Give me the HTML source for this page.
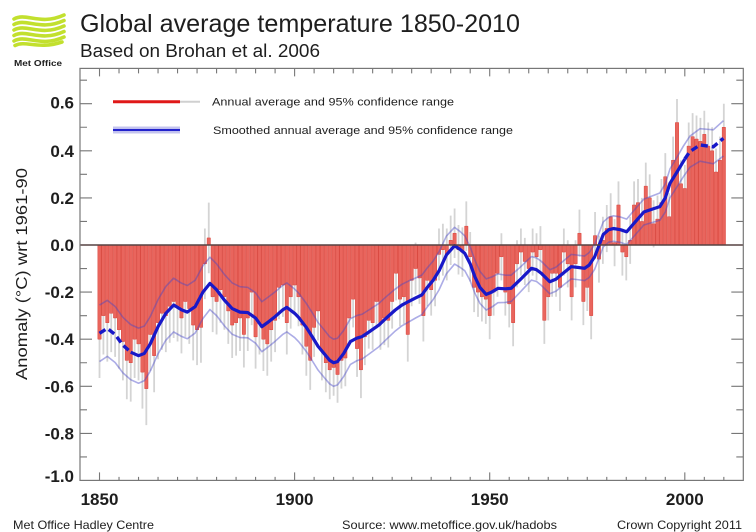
<!DOCTYPE html>
<html><head><meta charset="utf-8"><style>
html,body{margin:0;padding:0;background:#fff;}
svg{display:block;}
text{font-family:"Liberation Sans",Arial,sans-serif;fill:#1e1e1e;}
</style></head><body>
<svg width="756" height="532" viewBox="0 0 756 532" xmlns="http://www.w3.org/2000/svg">
<rect width="756" height="532" fill="#fff"/>
<!-- logo -->
<g fill="none" stroke="#c2e02e" stroke-width="3.6" stroke-linecap="round">
<path d="M14 19 C26 12 40 26 64 15"/>
<path d="M14 24.5 C26 17.5 40 31.5 64 20.5"/>
<path d="M14 30 C26 23 40 37 64 26"/>
<path d="M14 35.5 C26 28.5 40 42.5 64 31.5"/>
<path d="M14 41 C26 34 40 48 64 37"/>
<path d="M15 45.5 C26 40 38 50 62 42"/>
</g>
<text x="14" y="66" font-size="8" font-weight="bold" textLength="48" lengthAdjust="spacingAndGlyphs">Met Office</text>
<text x="80" y="32" font-size="25" textLength="440" lengthAdjust="spacingAndGlyphs">Global average temperature 1850-2010</text>
<text x="80" y="57" font-size="18" textLength="240" lengthAdjust="spacingAndGlyphs">Based on Brohan et al. 2006</text>

<!-- data -->
<g transform="translate(80,245) scale(3.902,-235.5) translate(-1845,0)">
<path fill="none" stroke="#d4d4d4" stroke-width="1.8" vector-effect="non-scaling-stroke" d="M1850-.565v.33M1851-.465v.33M1852-.495v.33M1853-.455v.33M1854-.475v.33M1855-.525v.33M1856-.575v.33M1857-.655v.33M1858-.665v.33M1859-.565v.33M1860-.575v.31M1861-.695v.31M1862-.765v.31M1863-.535v.31M1864-.625v.31M1865-.485v.31M1866-.445v.31M1867-.455v.31M1868-.415v.31M1869-.395v.31M1870-.41v.3M1871-.46v.3M1872-.39v.3M1873-.42v.3M1874-.49v.3M1875-.51v.3M1876-.5v.3M1877-.23v.3M1878-.12v.3M1879-.37v.3M1880-.38v.28M1881-.33v.28M1882-.36v.28M1883-.42v.28M1884-.48v.28M1885-.47v.28M1886-.45v.28M1887-.52v.28M1888-.45v.28M1889-.34v.28M1890-.525v.27M1891-.465v.27M1892-.535v.27M1893-.555v.27M1894-.495v.27M1895-.455v.27M1896-.315v.27M1897-.305v.27M1898-.465v.27M1899-.355v.27M1900-.295v.25M1901-.345v.25M1902-.465v.25M1903-.555v.25M1904-.615v.25M1905-.475v.25M1906-.405v.25M1907-.575v.25M1908-.625v.25M1909-.655v.25M1910-.64v.24M1911-.67v.24M1912-.61v.24M1913-.6v.24M1914-.43v.24M1915-.35v.24M1916-.56v.24M1917-.65v.24M1918-.51v.24M1919-.44v.24M1920-.445v.23M1921-.355v.23M1922-.445v.23M1923-.425v.23M1924-.435v.23M1925-.355v.23M1926-.235v.23M1927-.345v.23M1928-.335v.23M1929-.495v.23M1930-.26v.22M1931-.21v.22M1932-.25v.22M1933-.41v.22M1934-.26v.22M1935-.3v.22M1936-.26v.22M1937-.15v.22M1938-.13v.22M1939-.15v.22M1940-.085v.21M1941-.055v.21M1942-.125v.21M1943-.135v.21M1944-.025v.21M1945-.155v.21M1946-.285v.21M1947-.305v.21M1948-.325v.21M1949-.335v.21M1950-.4v.2M1951-.3v.2M1952-.22v.2M1953-.15v.2M1954-.3v.2M1955-.35v.2M1956-.43v.2M1957-.18v.2M1958-.13v.2M1959-.17v.2M1960-.2v.2M1961-.13v.2M1962-.15v.2M1963-.12v.2M1964-.42v.2M1965-.32v.2M1966-.22v.2M1967-.22v.2M1968-.28v.2M1969-.13v.2M1970-.18v.2M1971-.32v.2M1972-.18v.2M1973-.05v.2M1974-.34v.2M1975-.28v.2M1976-.4v.2M1977-.06v.2M1978-.16v.2M1979-.08v.2M1980-.03v.2M1981 .02v.2M1982-.09v.2M1983 .07v.2M1984-.13v.2M1985-.15v.2M1986-.08v.2M1987 .07v.2M1988 .08v.2M1989 0v.2M1990 .15v.2M1991 .1v.2M1992-.01v.2M1993 .01v.2M1994 .08v.2M1995 .19v.2M1996 .02v.2M1997 .26v.2M1998 .42v.2M1999 .16v.2M2000 .14v.2M2001 .32v.2M2002 .36v.2M2003 .35v.2M2004 .34v.2M2005 .37v.2M2006 .32v.2M2007 .3v.2M2008 .21v.2M2009 .26v.2M2010 .4v.2"/>
<g transform="translate(-.43,0)">
<path fill="#e9655d" stroke="#d9453c" stroke-width=".5" vector-effect="non-scaling-stroke" d="M1850 0V-.4h.86V0ZM1851 0V-.3h.86V0ZM1852 0V-.33h.86V0ZM1853 0V-.29h.86V0ZM1854 0V-.31h.86V0ZM1855 0V-.36h.86V0ZM1856 0V-.41h.86V0ZM1857 0V-.49h.86V0ZM1858 0V-.5h.86V0ZM1859 0V-.4h.86V0ZM1860 0V-.42h.86V0ZM1861 0V-.54h.86V0ZM1862 0V-.61h.86V0ZM1863 0V-.38h.86V0ZM1864 0V-.47h.86V0ZM1865 0V-.33h.86V0ZM1866 0V-.29h.86V0ZM1867 0V-.3h.86V0ZM1868 0V-.26h.86V0ZM1869 0V-.24h.86V0ZM1870 0V-.26h.86V0ZM1871 0V-.31h.86V0ZM1872 0V-.24h.86V0ZM1873 0V-.27h.86V0ZM1874 0V-.34h.86V0ZM1875 0V-.36h.86V0ZM1876 0V-.35h.86V0ZM1877 0V-.08h.86V0ZM1878 0V.03h.86V0ZM1879 0V-.22h.86V0ZM1880 0V-.24h.86V0ZM1881 0V-.19h.86V0ZM1882 0V-.22h.86V0ZM1883 0V-.28h.86V0ZM1884 0V-.34h.86V0ZM1885 0V-.33h.86V0ZM1886 0V-.31h.86V0ZM1887 0V-.38h.86V0ZM1888 0V-.31h.86V0ZM1889 0V-.2h.86V0ZM1890 0V-.39h.86V0ZM1891 0V-.33h.86V0ZM1892 0V-.4h.86V0ZM1893 0V-.42h.86V0ZM1894 0V-.36h.86V0ZM1895 0V-.32h.86V0ZM1896 0V-.18h.86V0ZM1897 0V-.17h.86V0ZM1898 0V-.33h.86V0ZM1899 0V-.22h.86V0ZM1900 0V-.17h.86V0ZM1901 0V-.22h.86V0ZM1902 0V-.34h.86V0ZM1903 0V-.43h.86V0ZM1904 0V-.49h.86V0ZM1905 0V-.35h.86V0ZM1906 0V-.28h.86V0ZM1907 0V-.45h.86V0ZM1908 0V-.5h.86V0ZM1909 0V-.53h.86V0ZM1910 0V-.52h.86V0ZM1911 0V-.55h.86V0ZM1912 0V-.49h.86V0ZM1913 0V-.48h.86V0ZM1914 0V-.31h.86V0ZM1915 0V-.23h.86V0ZM1916 0V-.44h.86V0ZM1917 0V-.53h.86V0ZM1918 0V-.39h.86V0ZM1919 0V-.32h.86V0ZM1920 0V-.33h.86V0ZM1921 0V-.24h.86V0ZM1922 0V-.33h.86V0ZM1923 0V-.31h.86V0ZM1924 0V-.32h.86V0ZM1925 0V-.24h.86V0ZM1926 0V-.12h.86V0ZM1927 0V-.23h.86V0ZM1928 0V-.22h.86V0ZM1929 0V-.38h.86V0ZM1930 0V-.15h.86V0ZM1931 0V-.1h.86V0ZM1932 0V-.14h.86V0ZM1933 0V-.3h.86V0ZM1934 0V-.15h.86V0ZM1935 0V-.19h.86V0ZM1936 0V-.15h.86V0ZM1937 0V-.04h.86V0ZM1938 0V-.02h.86V0ZM1939 0V-.04h.86V0ZM1940 0V.02h.86V0ZM1941 0V.05h.86V0ZM1942 0V-.02h.86V0ZM1943 0V-.03h.86V0ZM1944 0V.08h.86V0ZM1945 0V-.05h.86V0ZM1946 0V-.18h.86V0ZM1947 0V-.2h.86V0ZM1948 0V-.22h.86V0ZM1949 0V-.23h.86V0ZM1950 0V-.3h.86V0ZM1951 0V-.2h.86V0ZM1952 0V-.12h.86V0ZM1953 0V-.05h.86V0ZM1954 0V-.2h.86V0ZM1955 0V-.25h.86V0ZM1956 0V-.33h.86V0ZM1957 0V-.08h.86V0ZM1958 0V-.03h.86V0ZM1959 0V-.07h.86V0ZM1960 0V-.1h.86V0ZM1961 0V-.03h.86V0ZM1962 0V-.05h.86V0ZM1963 0V-.02h.86V0ZM1964 0V-.32h.86V0ZM1965 0V-.22h.86V0ZM1966 0V-.12h.86V0ZM1967 0V-.12h.86V0ZM1968 0V-.18h.86V0ZM1969 0V-.03h.86V0ZM1970 0V-.08h.86V0ZM1971 0V-.22h.86V0ZM1972 0V-.08h.86V0ZM1973 0V.05h.86V0ZM1974 0V-.24h.86V0ZM1975 0V-.18h.86V0ZM1976 0V-.3h.86V0ZM1977 0V.04h.86V0ZM1978 0V-.06h.86V0ZM1979 0V.02h.86V0ZM1980 0V.07h.86V0ZM1981 0V.12h.86V0ZM1982 0V.01h.86V0ZM1983 0V.17h.86V0ZM1984 0V-.03h.86V0ZM1985 0V-.05h.86V0ZM1986 0V.02h.86V0ZM1987 0V.17h.86V0ZM1988 0V.18h.86V0ZM1989 0V.1h.86V0ZM1990 0V.25h.86V0ZM1991 0V.2h.86V0ZM1992 0V.09h.86V0ZM1993 0V.11h.86V0ZM1994 0V.18h.86V0ZM1995 0V.29h.86V0ZM1996 0V.12h.86V0ZM1997 0V.36h.86V0ZM1998 0V.52h.86V0ZM1999 0V.26h.86V0ZM2000 0V.24h.86V0ZM2001 0V.42h.86V0ZM2002 0V.46h.86V0ZM2003 0V.45h.86V0ZM2004 0V.44h.86V0ZM2005 0V.47h.86V0ZM2006 0V.42h.86V0ZM2007 0V.4h.86V0ZM2008 0V.31h.86V0ZM2009 0V.36h.86V0ZM2010 0V.5h.86V0Z"/>
</g>
<polyline fill="none" stroke="#4848c8" stroke-opacity=".45" stroke-width="1.6" stroke-linejoin="round" vector-effect="non-scaling-stroke" points="1850,-.255 1852,-.235 1854,-.261 1856,-.307 1858,-.338 1860,-.353 1861.5,-.344 1863,-.304 1865,-.232 1867,-.176 1869,-.141 1871,-.162 1872.5,-.172 1874.5,-.15 1876.5,-.088 1878.3,-.052 1880,-.08 1882,-.125 1884,-.161 1886,-.177 1888,-.18 1890,-.203 1891.6,-.241 1893,-.224 1895,-.199 1897,-.171 1898,-.161 1900,-.187 1901,-.204 1903,-.248 1904.5,-.287 1906,-.329 1907.5,-.359 1909,-.39 1910,-.4 1911,-.396 1912.6,-.362 1914.3,-.313 1916,-.299 1917.3,-.294 1919,-.276 1921.6,-.248 1923.5,-.219 1925.8,-.187 1927.5,-.167 1929.2,-.153 1931,-.14 1932.6,-.128 1934,-.097 1935.5,-.068 1937,-.029 1938.9,.038 1941,.075 1942.5,.056 1943.6,.039 1945,-.008 1946.2,-.065 1947.5,-.112 1949.1,-.144 1950.5,-.136 1952.1,-.123 1954,-.128 1955.5,-.128 1957.7,-.096 1960.7,-.049 1962,-.055 1963.2,-.069 1965.4,-.105 1967,-.094 1968.3,-.076 1970.9,-.04 1972.5,-.043 1974.3,-.047 1975.5,-.032 1976.9,.003 1979.1,.098 1980.5,.118 1981.7,.124 1983.5,.119 1985.1,.11 1987.7,.161 1989.5,.195 1991.1,.205 1993.6,.221 1995,.26 1996.2,.323 1998,.373 1999.6,.419 2001.3,.462 2003.9,.494 2006,.491 2007.3,.489 2009.9,.528"/>
<polyline fill="none" stroke="#4848c8" stroke-opacity=".45" stroke-width="1.6" stroke-linejoin="round" vector-effect="non-scaling-stroke" points="1850,-.495 1852,-.473 1854,-.499 1856,-.543 1858,-.572 1860,-.587 1861.5,-.576 1863,-.536 1865,-.462 1867,-.404 1869,-.369 1871,-.388 1872.5,-.398 1874.5,-.374 1876.5,-.312 1878.3,-.274 1880,-.3 1882,-.343 1884,-.379 1886,-.393 1888,-.394 1890,-.417 1891.6,-.453 1893,-.436 1895,-.409 1897,-.379 1898,-.369 1900,-.393 1901,-.41 1903,-.452 1904.5,-.491 1906,-.531 1907.5,-.561 1909,-.59 1910,-.6 1911,-.594 1912.6,-.558 1914.3,-.507 1916,-.491 1917.3,-.484 1919,-.464 1921.6,-.432 1923.5,-.401 1925.8,-.365 1927.5,-.343 1929.2,-.327 1931,-.31 1932.6,-.296 1934,-.263 1935.5,-.232 1937,-.191 1938.9,-.122 1941,-.081 1942.5,-.096 1943.6,-.109 1945,-.152 1946.2,-.205 1947.5,-.248 1949.1,-.276 1950.5,-.264 1952.1,-.245 1954,-.244 1955.5,-.24 1957.7,-.202 1960.7,-.149 1962,-.155 1963.2,-.171 1965.4,-.207 1967,-.196 1968.3,-.178 1970.9,-.144 1972.5,-.147 1974.3,-.151 1975.5,-.138 1976.9,-.103 1979.1,-.008 1980.5,.012 1981.7,.016 1983.5,.011 1985.1,.002 1987.7,.051 1989.5,.085 1991.1,.093 1993.6,.105 1995,.14 1996.2,.201 1998,.247 1999.6,.289 2001.3,.33 2003.9,.356 2006,.349 2007.3,.345 2009.9,.378"/>
<polyline fill="none" stroke="#1818c8" stroke-width="3.2" stroke-linejoin="round" vector-effect="non-scaling-stroke" points="1858,-.455 1860,-.47 1861.5,-.46 1863,-.42 1865,-.347 1867,-.29 1869,-.255 1871,-.275 1872.5,-.285 1874.5,-.262 1876.5,-.2 1878.3,-.163 1880,-.19 1882,-.234 1884,-.27 1886,-.285 1888,-.287 1890,-.31 1891.6,-.347 1893,-.33 1895,-.304 1897,-.275 1898,-.265 1900,-.29 1901,-.307 1903,-.35 1904.5,-.389 1906,-.43 1907.5,-.46 1909,-.49 1910,-.5 1911,-.495 1912.6,-.46 1914.3,-.41 1916,-.395 1917.3,-.389 1919,-.37 1921.6,-.34 1923.5,-.31 1925.8,-.276 1927.5,-.255 1929.2,-.24 1931,-.225 1932.6,-.212 1934,-.18 1935.5,-.15 1937,-.11 1938.9,-.042 1941,-.003 1942.5,-.02 1943.6,-.035 1945,-.08 1946.2,-.135 1947.5,-.18 1949.1,-.21 1950.5,-.2 1952.1,-.184 1954,-.186 1955.5,-.184 1957.7,-.149 1960.7,-.099 1962,-.105 1963.2,-.12 1965.4,-.156 1967,-.145 1968.3,-.127 1970.9,-.092 1972.5,-.095 1974.3,-.099 1975.5,-.085 1976.9,-.05 1979.1,.045 1980.5,.065 1981.7,.07 1983.5,.065 1985.1,.056 1987.7,.106 1989.5,.14 1991.1,.149 1993.6,.163 1995,.2 1996.2,.262 1998,.31 2000,.365"/>
</g>
<!-- dashed ends of smooth -->
<polyline fill="none" stroke="#1818c8" stroke-width="3.4" stroke-dasharray="7 4" points="99.5,333.3 107.3,328.4 115.1,334.5 122.9,345.1 130.7,352.2"/>
<polyline fill="none" stroke="#1818c8" stroke-width="3.4" stroke-dasharray="7 4" points="684.8,159 689.7,151.7 700,144.9 708.2,146.1 713.3,146.8 723.4,138.3"/>

<!-- zero line -->
<line x1="80" y1="245" x2="743.3" y2="245" stroke="#574242" stroke-width="1.6"/>

<!-- axes -->
<rect x="80" y="68.4" width="663.3" height="412" fill="none" stroke="#777" stroke-width="1.2"/>
<g transform="translate(80,0) scale(3.902,1) translate(-1845,0)" fill="none" stroke="#777" stroke-width="1.1">
<path vector-effect="non-scaling-stroke" d="M1855 480.4v-3.5M1860 480.4v-3.5M1865 480.4v-3.5M1870 480.4v-3.5M1875 480.4v-3.5M1880 480.4v-3.5M1885 480.4v-3.5M1890 480.4v-3.5M1895 480.4v-3.5M1905 480.4v-3.5M1910 480.4v-3.5M1915 480.4v-3.5M1920 480.4v-3.5M1925 480.4v-3.5M1930 480.4v-3.5M1935 480.4v-3.5M1940 480.4v-3.5M1945 480.4v-3.5M1955 480.4v-3.5M1960 480.4v-3.5M1965 480.4v-3.5M1970 480.4v-3.5M1975 480.4v-3.5M1980 480.4v-3.5M1985 480.4v-3.5M1990 480.4v-3.5M1995 480.4v-3.5M2005 480.4v-3.5M2010 480.4v-3.5M1850 480.4v-8M1900 480.4v-8M1950 480.4v-8M2000 480.4v-8"/>
<path vector-effect="non-scaling-stroke" d="M1855 68.4v5M1860 68.4v5M1865 68.4v5M1870 68.4v5M1875 68.4v5M1880 68.4v5M1885 68.4v5M1890 68.4v5M1895 68.4v5M1905 68.4v5M1910 68.4v5M1915 68.4v5M1920 68.4v5M1925 68.4v5M1930 68.4v5M1935 68.4v5M1940 68.4v5M1945 68.4v5M1955 68.4v5M1960 68.4v5M1965 68.4v5M1970 68.4v5M1975 68.4v5M1980 68.4v5M1985 68.4v5M1990 68.4v5M1995 68.4v5M2005 68.4v5M2010 68.4v5M1850 68.4v8M1900 68.4v8M1950 68.4v8M2000 68.4v8"/>
</g>
<g transform="translate(0,245) scale(1,-235.5)" fill="none" stroke="#777" stroke-width="1.1">
<path vector-effect="non-scaling-stroke" d="M80 .6h12M80 .4h12M80 .2h12M80 -.2h12M80 -.4h12M80 -.6h12M80 -.8h12M80 .7h7M80 .5h7M80 .3h7M80 .1h7M80 -.1h7M80 -.3h7M80 -.5h7M80 -.7h7M80 -.9h7"/>
<path vector-effect="non-scaling-stroke" d="M743.3 .6h-12M743.3 .4h-12M743.3 .2h-12M743.3 -.2h-12M743.3 -.4h-12M743.3 -.6h-12M743.3 -.8h-12M743.3 .7h-7M743.3 .5h-7M743.3 .3h-7M743.3 .1h-7M743.3 -.1h-7M743.3 -.3h-7M743.3 -.5h-7M743.3 -.7h-7M743.3 -.9h-7"/>
</g>

<!-- y labels -->
<g font-size="17" font-weight="bold" text-anchor="end">
<text x="74" y="108.5">0.6</text>
<text x="74" y="156.8">0.4</text>
<text x="74" y="203.9">0.2</text>
<text x="74" y="251">0.0</text>
<text x="74" y="298.1">-0.2</text>
<text x="74" y="345.2">-0.4</text>
<text x="74" y="392.5">-0.6</text>
<text x="74" y="439.6">-0.8</text>
<text x="74" y="482">-1.0</text>
</g>
<!-- x labels -->
<g font-size="17" font-weight="bold" text-anchor="middle">
<text x="99.5" y="505">1850</text>
<text x="294.6" y="505">1900</text>
<text x="489.7" y="505">1950</text>
<text x="684.8" y="505">2000</text>
</g>
<text transform="translate(27,274) rotate(-90)" font-size="16" text-anchor="middle" textLength="212" lengthAdjust="spacingAndGlyphs">Anomaly (°C) wrt 1961-90</text>

<!-- legend -->
<line x1="113" y1="101.7" x2="180" y2="101.7" stroke="#e01818" stroke-width="3"/>
<line x1="180" y1="101.7" x2="200" y2="101.7" stroke="#d0d0d0" stroke-width="2"/>
<text x="212" y="105.5" font-size="11" textLength="242" lengthAdjust="spacingAndGlyphs">Annual average and 95% confidence range</text>
<line x1="113" y1="127.3" x2="180" y2="127.3" stroke="#c4c4ee" stroke-width="1.6"/>
<line x1="113" y1="132.7" x2="180" y2="132.7" stroke="#c4c4ee" stroke-width="1.6"/>
<line x1="113" y1="130" x2="180" y2="130" stroke="#2222cc" stroke-width="2.4"/>
<text x="213" y="134" font-size="11" textLength="300" lengthAdjust="spacingAndGlyphs">Smoothed annual average and 95% confidence range</text>

<!-- footer -->
<text x="13" y="529" font-size="12" textLength="141" lengthAdjust="spacingAndGlyphs">Met Office Hadley Centre</text>
<text x="342" y="529" font-size="12" textLength="215" lengthAdjust="spacingAndGlyphs">Source: www.metoffice.gov.uk/hadobs</text>
<text x="617" y="529" font-size="12" textLength="125" lengthAdjust="spacingAndGlyphs">Crown Copyright 2011</text>
</svg>
</body></html>
